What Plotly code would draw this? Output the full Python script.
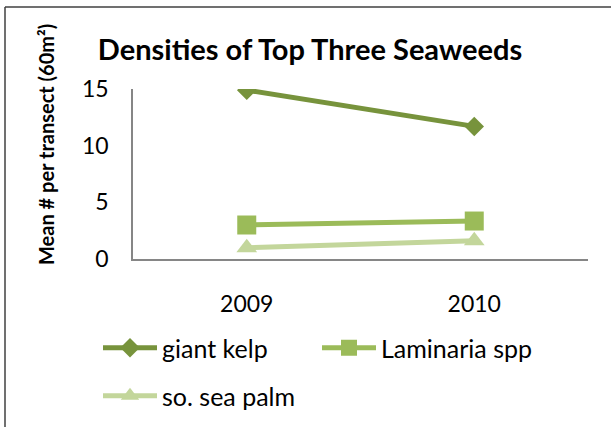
import plotly.graph_objects as go

years = ["2009", "2010"]
giant_kelp = [14.9, 11.7]
laminaria = [3.0, 3.35]
sea_palm = [1.0, 1.6]
y_ticks = [0, 5, 10, 15]

W, H = 611, 427
L, R, T, B = 133, 588, 89, 259

def px(x):
    return (x - L) / (R - L)

def py(y):
    return (B - y) / (B - T)

fig = go.Figure()
series = [
    ("giant kelp", giant_kelp, "#77933C", "diamond", 15, "legend"),
    ("Laminaria spp", laminaria, "#9BBB59", "square", 19, "legend"),
    ("so. sea palm", sea_palm, "#C3D69B", "triangle-up", 18, "legend2"),
]
for name, vals, col, sym, sz, lg in series:
    fig.add_trace(go.Scatter(
        x=years, y=vals, name=name, mode="lines+markers",
        line=dict(color=col, width=5),
        marker=dict(symbol=sym, size=sz, color=col, line=dict(width=0)),
        legend=lg,
    ))

font = "Lato, Carlito, sans-serif"
legfont = dict(size=25, family=font, color="black")
fig.update_layout(
    width=W, height=H,
    margin=dict(l=L, r=W - R, t=T, b=H - B, autoexpand=False),
    paper_bgcolor="white", plot_bgcolor="white",
    font=dict(family=font, color="black"),
    title=dict(text="<b>Densities of Top Three Seaweeds</b>",
               x=px(310), xref="paper", xanchor="center",
               y=1 - 50 / H, yanchor="middle",
               font=dict(size=29, family=font, color="black")),
    xaxis=dict(type="category", range=[-0.5, 1.5], showgrid=False,
               showline=True, linecolor="#868686", linewidth=1.5,
               ticks="", tickfont=dict(size=23), ticklabelstandoff=24,
               zeroline=False, fixedrange=True),
    yaxis=dict(range=[0, 15], tickvals=y_ticks, showgrid=False,
               showline=True, linecolor="#868686", linewidth=1.5,
               ticks="", tickfont=dict(size=23), ticklabelstandoff=18,
               zeroline=False),
    showlegend=True,
    legend=dict(orientation="h", x=px(98), xref="paper", xanchor="left",
                y=py(348), yanchor="middle", entrywidth=150,
                font=legfont, traceorder="normal", itemwidth=54,
                bgcolor="rgba(0,0,0,0)"),
    legend2=dict(orientation="h", x=px(98), xref="paper", xanchor="left",
                 y=py(396), yanchor="middle",
                 font=legfont, traceorder="normal", itemwidth=54,
                 bgcolor="rgba(0,0,0,0)"),
)

fig.add_annotation(text="<b>Mean # per transect (60m²)</b>", textangle=-90,
                   x=px(46), y=py(145), xref="paper", yref="paper",
                   xanchor="center", yanchor="middle",
                   showarrow=False, font=dict(size=20, family=font, color="black"))

fig.add_shape(type="line", xref="paper", yref="paper",
              x0=px(5), x1=px(615), y0=py(7), y1=py(7),
              line=dict(color="#404040", width=1.5))
fig.add_shape(type="line", xref="paper", yref="paper",
              x0=px(5), x1=px(5), y0=py(7), y1=py(430),
              line=dict(color="#404040", width=1.5))

fig.write_html("out.html", config={"displayModeBar": False},
               post_script="document.body.style.margin='0';")
